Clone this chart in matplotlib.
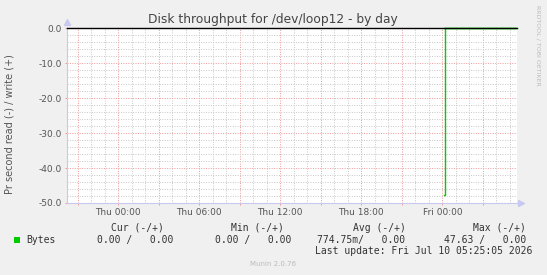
import matplotlib.pyplot as plt
from matplotlib.ticker import MultipleLocator, FuncFormatter
from matplotlib.patches import Rectangle

plt.rcParams['axes.unicode_minus'] = False
plt.rcParams['font.family'] = 'DejaVu Sans'

# x axis in hours since Thu 00:00
x_start, x_end = -3.8, 29.53
tick_hours = [0, 6, 12, 18, 24]
tick_labels = ['Thu 00:00', 'Thu 06:00', 'Thu 12:00', 'Thu 18:00', 'Fri 00:00']

# read (drawn negative) / write samples; no data before Fri 00:07
read_hours = [24.12, 24.22, 29.42]
read_values = [47.63, 0.0, 0.0]
write_hours = [24.12, 29.42]
write_values = [0.0, 0.0]

# legend numbers (read / write)
cur_vals = ['0.00', '0.00']
min_vals = ['0.00', '0.00']
avg_vals = ['774.75m', '0.00']
max_vals = ['47.63', '0.00']

W, H = 547, 275
fig = plt.figure(figsize=(W / 100, H / 100), dpi=100, facecolor='#F0F0F0')


def px(x, y):
    return x / W, 1 - y / H


ax = fig.add_axes([67 / W, 1 - 203 / H, 450 / W, (203 - 28.3) / H])
ax.set_facecolor('white')

green = '#00CC00'
ax.plot(read_hours, [-v for v in read_values], drawstyle='steps-post',
        color=green, lw=1.0, zorder=3, clip_on=False)
ax.plot(write_hours, write_values, drawstyle='steps-post',
        color=green, lw=1.0, zorder=3, clip_on=False)
ax.axhline(0, color='black', lw=1.0, zorder=3.5, clip_on=False)

ax.set_xlim(x_start, x_end)
ax.set_ylim(-50, 0)

ax.xaxis.set_major_locator(MultipleLocator(3))
ax.xaxis.set_minor_locator(MultipleLocator(1))
lab = dict(zip(tick_hours, tick_labels))
ax.xaxis.set_major_formatter(FuncFormatter(lambda v, p: lab.get(int(round(v)), '')))
ax.yaxis.set_major_locator(MultipleLocator(10))
ax.yaxis.set_minor_locator(MultipleLocator(2))
ax.yaxis.set_major_formatter(FuncFormatter(lambda v, p: '%.1f' % v))

ax.grid(which='minor', color='#C8C8C8', ls=(0, (1, 1.5)), lw=0.7)
ax.grid(which='major', color='#EE9999', ls=(0, (1, 1.5)), lw=0.7)
ax.set_axisbelow(True)

ax.tick_params(which='major', length=1.5, width=0.7, color='#EE9999',
               labelsize=6.5, labelcolor='#555555', pad=2)
ax.tick_params(which='minor', length=0)

for s in ['top', 'right']:
    ax.spines[s].set_visible(False)
for s in ['left', 'bottom']:
    ax.spines[s].set_color('#C8C8F0')
    ax.spines[s].set_linewidth(0.8)

# axis arrows
ax.plot([0], [1.035], marker='^', ms=4, color='#C8C8F0', transform=ax.transAxes,
        clip_on=False, zorder=1)
ax.plot([1.008], [0], marker='>', ms=4, color='#C8C8F0', transform=ax.transAxes,
        clip_on=False, zorder=1)

fig.text(*px(273, 19), 'Disk throughput for /dev/loop12 - by day', ha='center',
         va='center', fontsize=8.8, color='#444444')
fig.text(*px(10, 124), 'Pr second read (-) / write (+)', rotation=90, ha='center',
         va='center', fontsize=7, color='#555555')
fig.text(*px(538, 5), 'RRDTOOL / TOBI OETIKER', rotation=270, ha='center',
         va='top', fontsize=4.5, color='#BBBBBB')

mono = dict(family='DejaVu Sans Mono', fontsize=7, color='#333333', va='center')
fig.text(*px(164, 227.7), 'Cur (-/+)', ha='right', **mono)
fig.text(*px(284, 227.7), 'Min (-/+)', ha='right', **mono)
fig.text(*px(406, 227.7), 'Avg (-/+)', ha='right', **mono)
fig.text(*px(526, 227.7), 'Max (-/+)', ha='right', **mono)

fig.patches.append(Rectangle(px(14, 243.3), 6 / W, 6 / H, transform=fig.transFigure,
                             facecolor=green, edgecolor='none'))
fig.text(*px(26, 240), 'Bytes', ha='left', **mono)
fig.text(*px(173.5, 240), '%s / %6s' % tuple(cur_vals), ha='right', **mono)
fig.text(*px(291, 240), '%s / %6s' % tuple(min_vals), ha='right', **mono)
fig.text(*px(405, 240), '%s/%7s' % tuple(avg_vals), ha='right', **mono)
fig.text(*px(526.7, 240), '%s / %6s' % tuple(max_vals), ha='right', **mono)
fig.text(*px(532, 251.5), 'Last update: Fri Jul 10 05:25:05 2026', ha='right', **mono)

fig.text(*px(273, 264), 'Munin 2.0.76', ha='center', va='center', fontsize=5,
         color='#BBBBBB')

fig.savefig('out.png', dpi=100, facecolor=fig.get_facecolor())
